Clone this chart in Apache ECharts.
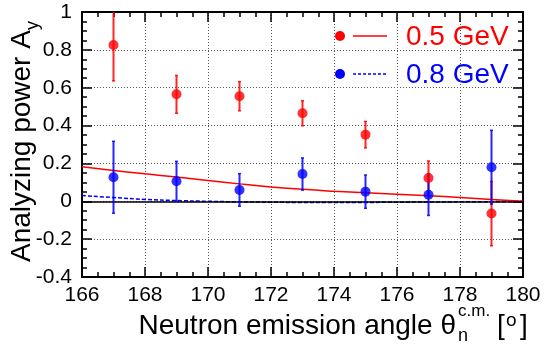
<!DOCTYPE html>
<html>
<head>
<meta charset="utf-8">
<script src="https://cdn.jsdelivr.net/npm/echarts@6/dist/echarts.min.js"></script>
<style>html,body{margin:0;padding:0;background:#fff;}#c{width:544px;height:347px;}</style>
</head>
<body>
<div id="c"></div>
<script>
// ---- data ----
var angles = [167, 169, 171, 173, 175, 177, 179];
var red05 = [0.826, 0.565, 0.555, 0.465, 0.352, 0.123, -0.065];
var red05Err = [0.19, 0.10, 0.077, 0.066, 0.07, 0.09, 0.17];
var blue08 = [0.127, 0.106, 0.06, 0.144, 0.051, 0.035, 0.18];
var blue08Err = [0.19, 0.105, 0.086, 0.085, 0.088, 0.11, 0.195];
var curveAngles = [166, 167, 168, 169, 170, 171, 172, 173, 174, 175, 176, 177, 178, 179, 180];
var redCurve = [0.183, 0.163, 0.145, 0.128, 0.11, 0.092, 0.076, 0.063, 0.053, 0.045, 0.037, 0.029, 0.02, 0.01, 0.0];
var blueCurve = [0.03, 0.02, 0.01, 0.004, 0.0, -0.003, -0.005, -0.006, -0.006, -0.006, -0.005, -0.004, -0.003, -0.002, 0.0];
var xTicks = [166, 168, 170, 172, 174, 176, 178, 180];
var yTicks = [-0.4, -0.2, 0, 0.2, 0.4, 0.6, 0.8, 1];
var legendLabels = ['0.5 GeV', '0.8 GeV'];
var xTitle = 'Neutron emission angle \u03b8';
var yTitleMain = 'Analyzing power A';
var yTitleSub = 'y';

var FONT = '"Liberation Sans", Arial, Helvetica, sans-serif';
var RED = '#ff0000', BLUE = '#0000ff';

function zip(a, b) { return a.map(function (v, i) { return [v, b[i]]; }); }
function zip3(a, b, c) { return a.map(function (v, i) { return [v, b[i], c[i]]; }); }

function errRender(color) {
  return function (params, api) {
    var x = api.value(0), y = api.value(1), e = api.value(2);
    var top = api.coord([x, y + e]);
    var bot = api.coord([x, y - e]);
    return {
      type: 'group',
      children: [
        { type: 'line', shape: { x1: top[0], y1: top[1], x2: bot[0], y2: bot[1] }, style: { stroke: color, lineWidth: 2, opacity: 0.85 } },
        { type: 'line', shape: { x1: top[0] - 1.5, y1: top[1], x2: top[0] + 1.5, y2: top[1] }, style: { stroke: color, lineWidth: 1.5, opacity: 0.85 } },
        { type: 'line', shape: { x1: bot[0] - 1.5, y1: bot[1], x2: bot[0] + 1.5, y2: bot[1] }, style: { stroke: color, lineWidth: 1.5, opacity: 0.85 } }
      ]
    };
  };
}

var xMin = xTicks[0], xMax = xTicks[xTicks.length - 1];
var yMin = yTicks[0], yMax = yTicks[yTicks.length - 1];

function xAxisCfg(pos) {
  var main = pos === 'bottom';
  return {
    type: 'value', position: pos, min: xMin, max: xMax, interval: 2,
    axisLine: { show: true, onZero: false, lineStyle: { color: '#000', width: 2 } },
    axisTick: { show: true, inside: true, length: 10, lineStyle: { color: '#000', width: 1.5 } },
    minorTick: { show: true, splitNumber: 4, length: 5, lineStyle: { color: '#000', width: 1.5 } },
    splitLine: { show: main, lineStyle: { color: '#555', width: 1, type: [1, 2] } },
    axisLabel: { show: main, fontSize: 21, color: '#000', fontFamily: FONT, margin: 8 }
  };
}
function yAxisCfg(pos) {
  var main = pos === 'left';
  return {
    type: 'value', position: pos, min: yMin, max: yMax, interval: 0.2,
    axisLine: { show: true, onZero: false, lineStyle: { color: '#000', width: 2 } },
    axisTick: { show: true, inside: true, length: 10, lineStyle: { color: '#000', width: 1.5 } },
    minorTick: { show: true, splitNumber: 4, length: 5, lineStyle: { color: '#000', width: 1.5 } },
    splitLine: { show: main, lineStyle: { color: '#555', width: 1, type: [1, 2] } },
    axisLabel: { show: main, fontSize: 21, color: '#000', fontFamily: FONT, margin: 10,
      formatter: function (v) { return String(Math.round(v * 10) / 10); } }
  };
}

var chart = echarts.init(document.getElementById('c'), null, { renderer: 'canvas' });
chart.setOption({
  animation: false,
  backgroundColor: '#fff',
  grid: { left: 82, right: 21, top: 12, bottom: 70 },
  xAxis: [xAxisCfg('bottom'), xAxisCfg('top')],
  yAxis: [yAxisCfg('left'), yAxisCfg('right')],
  series: [
    {
      type: 'line', data: zip(curveAngles, blueCurve), showSymbol: false, smooth: true,
      lineStyle: { color: BLUE, width: 1.5, type: [4, 2] }, z: 3
    },
    {
      type: 'line', data: zip(curveAngles, redCurve), showSymbol: false, smooth: true,
      lineStyle: { color: RED, width: 1.5 }, z: 4,
      markLine: { silent: true, symbol: 'none', label: { show: false },
        lineStyle: { color: '#000', width: 1.5, type: 'solid' }, data: [{ yAxis: 0 }] }
    },
    { type: 'custom', data: zip3(angles, red05, red05Err), renderItem: errRender(RED), clip: true, z: 5 },
    { type: 'custom', data: zip3(angles, blue08, blue08Err), renderItem: errRender(BLUE), clip: true, z: 6 },
    { type: 'scatter', data: zip(angles, red05), symbol: 'circle', symbolSize: 10, itemStyle: { color: RED }, z: 7 },
    { type: 'scatter', data: zip(angles, blue08), symbol: 'circle', symbolSize: 10, itemStyle: { color: BLUE }, z: 8 }
  ],
  graphic: [
    // legend
    { type: 'circle', shape: { cx: 340, cy: 36, r: 5 }, style: { fill: RED } },
    { type: 'line', shape: { x1: 353, y1: 36, x2: 387, y2: 36 }, style: { stroke: RED, lineWidth: 1.5 } },
    { type: 'text', x: 406, y: 37, style: { text: legendLabels[0], fill: RED, font: '28px ' + FONT, textAlign: 'left', textVerticalAlign: 'middle' } },
    { type: 'circle', shape: { cx: 340, cy: 74, r: 5 }, style: { fill: BLUE } },
    { type: 'line', shape: { x1: 353, y1: 74, x2: 387, y2: 74 }, style: { stroke: BLUE, lineWidth: 1.5, lineDash: [3, 2] } },
    { type: 'text', x: 406, y: 75, style: { text: legendLabels[1], fill: BLUE, font: '28px ' + FONT, textAlign: 'left', textVerticalAlign: 'middle' } },
    // x title
    { type: 'text', x: 456, y: 326, style: { text: xTitle, fill: '#000', font: '28px ' + FONT, textAlign: 'right', textVerticalAlign: 'middle' } },
    { type: 'text', x: 458, y: 311, style: { text: 'c.m.', fill: '#000', font: '17px ' + FONT, textAlign: 'left', textVerticalAlign: 'middle' } },
    { type: 'text', x: 458, y: 336, style: { text: 'n', fill: '#000', font: '18px ' + FONT, textAlign: 'left', textVerticalAlign: 'middle' } },
    { type: 'text', x: 497, y: 326, style: { text: '[', fill: '#000', font: '28px ' + FONT, textAlign: 'left', textVerticalAlign: 'middle' } },
    { type: 'text', x: 506, y: 321, style: { text: 'o', fill: '#000', font: '19px ' + FONT, textAlign: 'left', textVerticalAlign: 'middle' } },
    { type: 'text', x: 520, y: 326, style: { text: ']', fill: '#000', font: '28px ' + FONT, textAlign: 'left', textVerticalAlign: 'middle' } },
    // y title (rotated, subscript via rich text)
    { type: 'text', x: 22, y: 262, rotation: Math.PI / 2,
      style: {
        text: '{m|' + yTitleMain + '}{s|' + yTitleSub + '}',
        textAlign: 'left', textVerticalAlign: 'middle',
        rich: {
          m: { fontSize: 28, fontFamily: FONT, fill: '#000', lineHeight: 40, verticalAlign: 'middle' },
          s: { fontSize: 18, fontFamily: FONT, fill: '#000', lineHeight: 18, verticalAlign: 'bottom' }
        }
      } }
  ]
});
</script>
</body>
</html>
